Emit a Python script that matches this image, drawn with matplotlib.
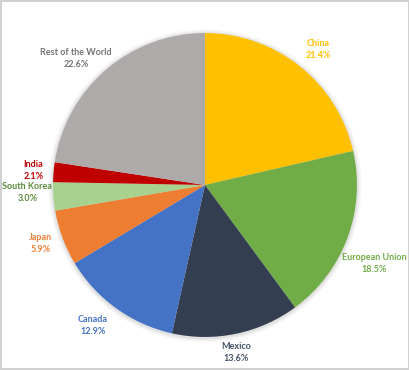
import numpy as np
import matplotlib.pyplot as plt
from matplotlib.patches import Circle

# share of total, clockwise from 12 o'clock
countries = ['China', 'European Union', 'Mexico', 'Canada', 'Japan',
             'South Korea', 'India', 'Rest of the World']
shares = [21.4, 18.5, 13.6, 12.9, 5.9, 3.0, 2.1, 22.6]
slice_colors = ['#FFC000', '#70AD47', '#333F50', '#4472C4', '#ED7D31',
                '#A9D18E', '#C00000', '#AEAAAA']
label_colors = ['#FFC000', '#70AD47', '#44546A', '#4472C4', '#ED7D31',
                '#5B8A3A', '#C00000', '#767171']
# label placement (radius factor, angle nudge in degrees) - excel "best fit" look
label_dist = [1.16, 1.225, 1.12, 1.185, 1.15, 1.17, 1.135, 1.19]
label_nudge = [-1.4, -4.5, -1.4, -2.7, -0.9, -2.0, -0.1, 4.8]

plt.rcParams['font.family'] = ['Lato', 'DejaVu Sans']

fig = plt.figure(figsize=(4.1, 3.7), dpi=100, edgecolor='#d0d0d0', linewidth=1.5)
ax = fig.add_axes([0, 0, 1, 1])

# soft shadow under the pie
for r, a in [(1.03, 0.05), (1.02, 0.08), (1.01, 0.12)]:
    ax.add_patch(Circle((0.0, -0.005), r, color='#7f7f7f', alpha=a, lw=0, zorder=0))

wedges, _ = ax.pie(shares, colors=slice_colors, startangle=90, counterclock=False,
                   wedgeprops=dict(linewidth=0, zorder=1))

for w, c, s, col, d, nd in zip(wedges, countries, shares, label_colors,
                               label_dist, label_nudge):
    ang = np.deg2rad((w.theta1 + w.theta2) / 2 + nd)
    ax.text(d * np.cos(ang), d * np.sin(ang), f'{c}\n{s:.1f}%', color=col,
            fontsize=6.5, fontweight='bold', ha='center', va='center',
            linespacing=1.45)

ax.set_xlim(-1.349, 1.349)
ax.set_ylim(-1.217, 1.217)
ax.set_aspect('equal')
ax.axis('off')

fig.savefig('out.png', dpi=100, edgecolor=fig.get_edgecolor())
